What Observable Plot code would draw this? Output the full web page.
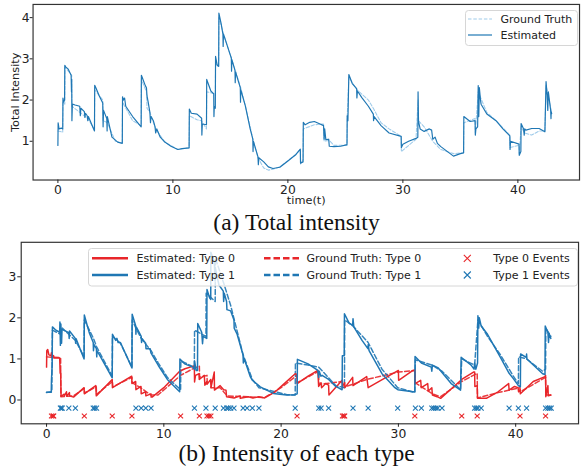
<!DOCTYPE html>
<html><head><meta charset="utf-8">
<script src="https://cdn.jsdelivr.net/npm/d3@7"></script>
<script src="https://cdn.jsdelivr.net/npm/@observablehq/plot@0.6"></script>
<style>
html,body{margin:0;padding:0;background:#fff;overflow:hidden;width:582px;height:467px}
#wrap{position:relative;width:582px;height:467px;overflow:hidden}
.abs{position:absolute;left:0}
.cap{position:absolute;left:0;width:593px;text-align:center;font-family:"Liberation Serif","Times New Roman",serif;font-size:23.5px;line-height:1;color:#111;white-space:nowrap}
</style></head><body><div id="wrap"></div>
<script>
// ---------- data ----------
const xTicks = [0, 10, 20, 30, 40];
const topYTicks = [1, 2, 3, 4];
const botYTicks = [0, 1, 2, 3];

// total intensity, estimated: [t, value]
const totalEst = [[0.0,0.9],[0.02,1.45],[0.1,1.3],[0.3,1.32],[0.42,1.3],[0.44,2.05],[0.5,1.95],[0.58,2.0],[0.6,2.84],[0.7,2.8],[0.9,2.75],[1.15,2.6],[1.18,2.2],[1.2,2.5],[1.22,1.5],[1.26,1.9],[1.5,1.88],[1.9,1.85],[1.95,1.62],[2.0,1.8],[2.3,1.72],[2.35,1.58],[2.4,1.68],[2.55,1.62],[2.6,1.5],[2.65,1.6],[3.18,1.25],[3.2,2.36],[3.3,2.3],[3.6,2.1],[3.9,1.93],[3.93,1.35],[3.97,1.75],[4.25,1.55],[4.28,1.25],[4.3,1.6],[4.7,1.1],[5.2,0.98],[5.6,0.95],[5.62,2.08],[5.7,2.0],[5.8,2.05],[5.9,1.85],[6.5,1.6],[7.24,1.35],[7.26,2.6],[7.4,2.5],[7.6,2.35],[7.7,2.3],[7.75,2.1],[7.85,1.95],[8.0,1.7],[8.05,1.45],[8.1,1.6],[8.3,1.5],[8.45,1.35],[8.5,1.2],[8.6,1.3],[8.9,1.1],[9.3,0.98],[9.83,0.88],[10.43,0.8],[10.8,0.82],[11.41,0.84],[11.43,1.78],[11.6,1.68],[12.1,1.66],[12.5,1.56],[12.52,1.15],[12.56,1.42],[12.92,1.4],[12.94,2.5],[13.3,2.22],[13.55,2.15],[13.57,1.6],[13.6,1.85],[13.69,1.8],[13.71,3.06],[13.85,2.85],[13.98,2.82],[14.0,4.11],[14.2,3.85],[14.35,3.6],[14.37,3.3],[14.4,3.6],[14.96,3.12],[15.08,3.02],[15.1,2.7],[15.13,2.98],[15.4,2.72],[15.42,2.42],[15.45,2.68],[15.86,2.3],[15.88,1.95],[15.9,2.25],[16.3,1.86],[16.72,1.3],[16.95,1.05],[16.97,0.75],[17.0,1.0],[17.4,0.62],[17.43,0.43],[17.47,0.6],[17.9,0.5],[18.3,0.38],[18.7,0.34],[19.3,0.37],[20.0,0.52],[20.7,0.68],[21.08,0.81],[21.1,0.47],[21.32,0.5],[21.34,1.46],[21.5,1.4],[21.9,1.46],[22.3,1.48],[22.7,1.43],[23.1,1.38],[23.15,1.05],[23.2,1.3],[23.3,1.04],[23.55,1.05],[23.6,0.88],[24.0,0.87],[24.6,0.88],[25.14,0.92],[25.16,1.62],[25.22,1.5],[25.3,2.62],[25.6,2.4],[25.98,2.28],[26.0,2.05],[26.05,2.22],[26.43,2.06],[27.0,1.85],[27.43,1.66],[27.45,1.5],[27.5,1.6],[28.1,1.38],[28.8,1.2],[29.85,1.12],[29.87,0.85],[30.0,0.93],[30.5,1.0],[31.14,1.07],[31.3,1.1],[31.32,2.2],[31.36,1.48],[31.5,1.3],[31.85,1.24],[32.3,1.3],[32.5,1.27],[32.6,1.05],[32.8,1.1],[33.0,0.95],[33.3,0.87],[34.4,0.64],[35.0,0.7],[35.28,0.72],[35.3,1.6],[35.85,1.48],[36.28,1.5],[36.3,1.15],[36.35,1.3],[36.5,1.35],[36.55,2.35],[36.6,1.6],[36.65,2.3],[36.75,2.0],[36.8,1.9],[37.3,1.66],[38.1,1.5],[38.7,1.3],[39.3,1.13],[39.32,0.8],[39.36,1.0],[40.1,0.93],[40.12,0.66],[40.26,0.75],[40.28,1.43],[40.5,1.3],[40.55,1.15],[40.6,1.3],[40.7,1.27],[41.2,1.31],[41.85,1.31],[42.35,1.23],[42.45,2.45],[42.55,2.1],[42.6,1.75],[42.65,2.2],[42.85,1.75],[42.88,1.55],[42.9,1.72],[42.94,1.67]];

// total intensity, ground truth
const totalGT = [[0,1.25],[0.42,1.22],[0.44,1.95],[0.6,1.9],[0.62,2.8],[1.2,2.6],[1.22,1.85],[2.6,1.55],[3.18,1.28],[3.2,2.25],[3.9,2.0],[3.93,1.5],[4.3,1.45],[5.0,1.0],[5.6,0.95],[5.62,1.95],[6.5,1.5],[7.24,1.38],[7.26,2.5],[7.7,2.2],[7.75,1.8],[8.0,1.7],[8.5,1.3],[9.3,0.98],[10.43,0.8],[11.41,0.84],[11.43,1.62],[12.1,1.52],[12.5,1.5],[12.92,1.3],[12.94,2.2],[13.69,2.15],[13.71,2.9],[13.98,2.8],[14.0,4.0],[14.4,3.6],[15.1,3.0],[15.9,2.3],[16.3,1.86],[16.72,1.35],[17.0,1.0],[17.4,0.6],[17.9,0.35],[18.3,0.3],[18.7,0.32],[19.3,0.38],[20.7,0.68],[21.08,0.8],[21.1,0.45],[21.32,0.55],[21.34,1.3],[22.3,1.4],[23.1,1.42],[23.15,1.0],[23.6,1.02],[24.0,0.9],[25.14,0.9],[25.16,1.6],[25.3,2.55],[26.0,2.25],[27.0,2.0],[27.43,1.8],[28.1,1.45],[28.8,1.3],[29.85,1.12],[29.87,0.75],[31.14,1.05],[31.32,2.0],[31.36,1.5],[31.85,1.35],[32.6,1.0],[33.3,0.8],[34.4,0.7],[35.28,0.72],[35.3,1.45],[36.28,1.55],[36.3,1.2],[36.55,2.2],[37.3,1.7],[38.1,1.5],[39.3,1.15],[39.32,0.85],[40.1,0.9],[40.12,0.7],[40.28,1.35],[40.6,1.2],[41.2,1.15],[41.85,1.25],[42.35,1.25],[42.45,2.35],[42.94,1.7]];

// type 1 intensity, estimated
const type1Est = [[0,0.19],[0.4,0.19],[0.42,0.5],[0.48,0.85],[0.5,1.78],[0.8,1.7],[1.12,1.65],[1.14,1.9],[1.18,1.33],[1.22,1.85],[1.28,1.38],[1.32,1.72],[1.9,1.64],[1.93,1.5],[1.96,1.68],[2.45,1.5],[2.48,1.38],[2.52,1.49],[3.2,1.0],[3.22,2.07],[3.64,1.64],[3.98,1.4],[4.0,1.2],[4.05,1.35],[4.25,1.25],[4.28,1.05],[4.3,1.2],[4.63,1.04],[5.6,0.54],[5.62,1.6],[5.9,1.45],[6.0,1.5],[6.1,1.4],[6.3,1.4],[7.28,0.78],[7.3,2.09],[7.6,1.81],[7.62,1.6],[7.65,1.78],[8.07,1.55],[8.1,1.4],[8.13,1.5],[8.45,1.38],[8.48,1.25],[8.83,1.25],[8.9,1.15],[9.53,0.84],[10.3,0.5],[11.35,0.2],[11.37,1.0],[11.77,0.88],[12.47,0.8],[12.6,0.75],[12.62,0.95],[12.75,0.72],[12.87,0.72],[12.89,1.86],[13.23,1.65],[13.3,1.37],[13.35,1.55],[13.66,1.5],[13.68,2.69],[13.9,2.49],[14.0,2.45],[14.01,3.6],[14.3,3.37],[14.37,2.9],[14.4,3.2],[14.7,2.8],[15.07,2.65],[15.1,2.4],[15.15,2.6],[15.35,2.4],[15.38,2.2],[15.7,2.17],[15.98,1.95],[16.0,1.75],[16.25,1.6],[16.75,1.1],[16.78,0.9],[16.82,1.03],[17.1,0.8],[17.38,0.56],[17.55,0.48],[18.1,0.35],[18.22,0.32],[19.34,0.16],[20.46,0.12],[21.2,0.13],[21.37,0.15],[21.39,0.99],[22.3,0.88],[23.13,0.72],[23.2,0.55],[23.25,0.7],[23.4,0.58],[23.5,0.6],[24.05,0.5],[24.66,0.33],[25.2,0.25],[25.22,1.08],[25.38,1.08],[25.4,2.1],[25.8,1.87],[26.1,1.82],[26.13,1.98],[26.2,1.78],[26.9,1.45],[27.4,1.25],[27.43,1.35],[27.5,1.2],[28.6,0.64],[29.7,0.3],[29.95,0.25],[31.24,0.2],[31.4,0.2],[31.42,1.06],[31.96,0.9],[32.8,0.8],[32.85,0.7],[32.9,0.85],[33.4,0.78],[34.5,0.4],[35.3,0.24],[35.35,1.04],[36.2,0.85],[36.45,0.75],[36.5,0.9],[36.6,0.75],[36.75,0.9],[36.78,2.05],[36.85,1.75],[36.9,2.0],[37.06,1.8],[37.6,1.6],[38.7,1.04],[39.44,0.65],[39.8,0.52],[40.23,0.35],[40.4,0.32],[40.42,1.12],[40.9,1.04],[40.93,1.12],[40.96,1.0],[42.3,0.64],[42.5,0.62],[42.52,1.8],[42.75,1.64],[42.8,1.4],[42.85,1.62],[43.0,1.5]];

// type 1 intensity, ground truth
const type1GT = [[0,0.18],[0.45,0.2],[0.5,1.7],[1.2,1.6],[1.34,1.75],[2.46,1.45],[3.2,1.05],[3.22,1.95],[4.0,1.5],[4.26,1.3],[5.6,0.58],[5.62,1.55],[6.3,1.38],[7.28,0.8],[7.3,1.95],[7.62,1.75],[8.07,1.5],[8.91,1.2],[9.53,0.9],[10.3,0.55],[11.43,0.25],[11.45,0.95],[12.6,0.8],[12.62,1.7],[13.59,1.55],[13.61,2.6],[14.38,2.4],[14.4,3.45],[15.1,2.85],[15.7,2.3],[16.76,1.1],[17.55,0.5],[18.11,0.3],[18.8,0.25],[20.5,0.13],[21.2,0.12],[21.22,0.9],[22.3,0.85],[23.21,0.8],[24.66,0.35],[25.4,0.3],[25.42,1.95],[26.13,1.8],[27.42,1.4],[28.6,0.75],[29.94,0.3],[31.4,0.18],[31.45,0.98],[32.85,0.85],[33.72,0.7],[35.3,0.25],[35.4,1.0],[36.5,0.85],[36.78,1.95],[37.6,1.55],[38.7,1.1],[39.8,0.58],[40.23,0.4],[40.25,1.05],[40.93,1.0],[42.3,0.7],[42.55,0.75],[42.57,1.75],[43.0,1.55]];

// type 0 intensity, estimated
const type0Est = [[0,0.8],[0.02,1.2],[0.1,1.23],[0.2,1.1],[0.37,1.08],[0.42,1.15],[0.45,1.05],[0.6,1.08],[0.63,1.02],[1.12,1.02],[1.16,0.65],[1.2,0.7],[1.24,0.09],[1.5,0.14],[1.52,0.1],[1.7,0.2],[1.72,0.09],[1.95,0.18],[1.97,0.1],[2.3,0.07],[3.2,0.3],[3.22,0.15],[4.2,0.35],[4.24,0.1],[5.6,0.5],[5.62,0.3],[7.26,0.58],[7.28,0.4],[7.6,0.45],[7.62,0.25],[8.05,0.33],[8.07,0.15],[8.45,0.2],[8.47,0.1],[8.9,0.15],[8.92,0.07],[9.0,0.07],[10.0,0.3],[11.35,0.7],[11.8,0.76],[12.6,0.83],[12.62,0.44],[12.7,0.6],[13.0,0.64],[13.02,0.5],[13.45,0.6],[13.5,0.36],[13.66,0.45],[13.68,0.38],[14.0,0.5],[14.02,0.3],[14.3,0.68],[14.32,0.24],[14.8,0.35],[15.1,0.25],[15.3,0.24],[15.35,0.08],[16.0,0.05],[16.5,0.1],[16.52,0.04],[17.2,0.08],[17.6,0.05],[18.1,0.08],[18.6,0.05],[19.5,0.2],[20.2,0.38],[21.2,0.64],[21.35,0.62],[21.37,0.4],[22.3,0.58],[23.13,0.72],[23.2,0.33],[23.4,0.42],[23.45,0.3],[23.8,0.4],[24.05,0.36],[24.08,0.12],[25.2,0.48],[25.23,0.33],[25.42,0.42],[25.44,0.3],[26.1,0.55],[26.13,0.35],[27.3,0.57],[27.42,0.3],[30.0,0.72],[30.02,0.48],[31.24,0.72],[31.4,0.73],[31.42,0.4],[31.9,0.48],[31.95,0.3],[32.5,0.4],[32.55,0.22],[32.85,0.3],[32.9,0.12],[33.3,0.08],[33.6,0.04],[35.4,0.5],[36.4,0.68],[36.5,0.68],[36.52,0.33],[36.72,0.35],[36.75,0.04],[37.5,0.04],[38.5,0.2],[39.4,0.4],[39.44,0.24],[39.9,0.33],[40.2,0.3],[40.25,0.2],[40.37,0.25],[40.4,0.15],[41.5,0.45],[42.5,0.57],[42.55,0.6],[42.57,0.08],[42.75,0.35],[42.78,0.1],[43.0,0.12]];

// type 0 intensity, ground truth
const type0GT = [[0,1.05],[1.2,1.03],[1.22,0.08],[2.3,0.1],[3.22,0.28],[3.24,0.17],[4.24,0.32],[4.26,0.14],[5.62,0.45],[5.64,0.32],[7.28,0.55],[7.3,0.42],[8.0,0.3],[8.9,0.12],[9.5,0.12],[11.43,0.6],[12.6,0.78],[13.03,0.82],[13.05,0.55],[13.68,0.6],[13.7,0.42],[14.01,0.48],[14.03,0.3],[14.8,0.3],[15.4,0.1],[18.6,0.06],[20.0,0.3],[21.36,0.6],[21.38,0.42],[23.2,0.7],[23.22,0.38],[25.23,0.45],[25.25,0.3],[27.3,0.5],[30.0,0.68],[31.4,0.72],[31.42,0.42],[32.9,0.15],[33.6,0.08],[35.4,0.45],[36.72,0.65],[36.74,0.05],[38.5,0.18],[40.37,0.3],[40.4,0.2],[42.55,0.55],[42.57,0.12],[43.0,0.12]];

// event times
const type1Events = [1.18,1.25,1.34,1.9,2.46,3.98,4.1,4.26,7.62,8.07,8.46,8.91,12.61,13.59,14.38,15.08,15.36,15.5,15.7,15.98,16.76,17.1,17.55,18.11,21.2,23.21,23.41,24.05,26.13,27.42,29.94,31.45,31.96,32.85,33.02,33.2,33.36,33.72,36.5,36.65,36.78,37.06,39.44,40.23,40.93,42.55,42.75,42.9,43.03];
const type0Events = [0.42,0.55,0.61,3.22,5.6,7.28,11.43,13.03,13.68,13.85,14.01,21.36,25.23,25.35,25.42,31.4,35.4,36.72,40.37,42.55];
const type1EventLevel = -0.2;
const type0EventLevel = -0.39;

// ---------- style ----------
const BLUE = "#1f77b4", LIGHT = "#9fcbea", RED = "#e8262a";
const xDomain = [-2.16, 45.36];
const styleObj = {fontFamily: "'DejaVu Sans', sans-serif", fontSize: "12.5px", color: "#222", background: "transparent", overflow: "visible"};
const T = d => d[0], V = d => d[1];
const fmt = d => String(d);

const wrap = document.getElementById("wrap");

// ---------- top panel ----------
const topPlot = Plot.plot({
  width: 590, height: 210,
  marginLeft: 33, marginRight: 3, marginTop: 4, marginBottom: 28,
  style: styleObj,
  x: {domain: xDomain},
  y: {domain: [0.06, 4.32]},
  marks: [
    Plot.line(totalGT, {x: T, y: V, stroke: LIGHT, strokeWidth: 1.1, strokeDasharray: "3.5,1.8"}),
    Plot.line(totalEst, {x: T, y: V, stroke: BLUE, strokeWidth: 1.2}),
    Plot.frame({stroke: "#333", strokeWidth: 1.2}),
    Plot.axisX({ticks: xTicks, tickFormat: fmt, tickSize: 3.5, tickPadding: 2, label: null}),
    Plot.axisY({ticks: topYTicks, tickFormat: fmt, tickSize: 3, tickPadding: 0.5, label: null}),
    Plot.text(["time(t)"], {frameAnchor: "bottom", lineAnchor: "middle", textAnchor: "middle", dy: 20.5, fontSize: 11.5, fill: "#222"}),
    Plot.text(["Total Intensity"], {frameAnchor: "left", lineAnchor: "middle", textAnchor: "middle", dx: -18, rotate: -90, fontSize: 11.5, fill: "#222"})
  ]
});
topPlot.classList.add("abs"); topPlot.style.top = "0px";
wrap.appendChild(topPlot);

// ---------- bottom panel ----------
const botPlot = Plot.plot({
  width: 590, height: 215,
  marginLeft: 21, marginRight: 4, marginTop: 14, marginBottom: 17,
  style: styleObj,
  x: {domain: xDomain},
  y: {domain: [-0.58, 3.84]},
  marks: [
    Plot.line(type0GT, {x: T, y: V, stroke: RED, strokeWidth: 1.5, strokeDasharray: "5,2.5", strokeOpacity: 0.9}),
    Plot.line(type1GT, {x: T, y: V, stroke: BLUE, strokeWidth: 1.5, strokeDasharray: "5,2.5", strokeOpacity: 0.9}),
    Plot.line(type0Est, {x: T, y: V, stroke: RED, strokeWidth: 1.5}),
    Plot.line(type1Est, {x: T, y: V, stroke: BLUE, strokeWidth: 1.5}),
    Plot.dot(type0Events, {x: d => d, y: () => type0EventLevel, symbol: "times", r: 2.4, stroke: RED, strokeWidth: 1.1}),
    Plot.dot(type1Events, {x: d => d, y: () => type1EventLevel, symbol: "times", r: 2.4, stroke: BLUE, strokeWidth: 1.1}),
    Plot.frame({stroke: "#333", strokeWidth: 1.2}),
    Plot.axisX({ticks: xTicks, tickFormat: fmt, tickSize: 3.5, tickPadding: 2.5, label: null}),
    Plot.axisY({ticks: botYTicks, tickFormat: fmt, tickSize: 3.5, tickPadding: 1.5, label: null})
  ]
});
botPlot.classList.add("abs"); botPlot.style.top = "228px";
wrap.appendChild(botPlot);

// ---------- legends ----------
const NS = "http://www.w3.org/2000/svg";
const leg = document.createElementNS(NS, "svg");
leg.setAttribute("width", 582); leg.setAttribute("height", 467);
leg.setAttribute("class", "abs"); leg.style.top = "0px";
leg.style.fontFamily = "'DejaVu Sans', sans-serif"; leg.style.fontSize = "11px";
function el(tag, attrs, text) {
  const e = document.createElementNS(NS, tag);
  for (const k in attrs) e.setAttribute(k, attrs[k]);
  if (text) e.textContent = text;
  leg.appendChild(e); return e;
}
// top legend
el("rect", {x: 465.5, y: 10.5, width: 112, height: 35, rx: 3, fill: "rgba(255,255,255,0.8)", stroke: "#d6d6d6"});
el("line", {x1: 468, x2: 492, y1: 19, y2: 19, stroke: LIGHT, "stroke-width": 1.1, "stroke-dasharray": "3.5,1.8"});
el("line", {x1: 468, x2: 492, y1: 35, y2: 35, stroke: BLUE, "stroke-width": 1.2});
el("text", {x: 500.5, y: 19, "dominant-baseline": "central", fill: "#222"}, "Ground Truth");
el("text", {x: 500.5, y: 35, "dominant-baseline": "central", fill: "#222"}, "Estimated");
// bottom legend
el("rect", {x: 88.5, y: 248.5, width: 489, height: 37.5, rx: 3, fill: "rgba(255,255,255,0.8)", stroke: "#d6d6d6"});
const rows = [[258.3, RED, "Type 0"], [275, BLUE, "Type 1"]];
for (const [yy, c, name] of rows) {
  el("line", {x1: 92, x2: 128, y1: yy, y2: yy, stroke: c, "stroke-width": 2.6});
  el("text", {x: 136.5, y: yy, "dominant-baseline": "central", fill: "#222"}, "Estimated: " + name);
  el("line", {x1: 264, x2: 300, y1: yy, y2: yy, stroke: c, "stroke-width": 2.6, "stroke-dasharray": "6.5,3"});
  el("text", {x: 306.5, y: yy, "dominant-baseline": "central", fill: "#222"}, "Ground Truth: " + name);
  el("path", {d: `M${467.3-3.5},${yy-3.5}L${467.3+3.5},${yy+3.5}M${467.3-3.5},${yy+3.5}L${467.3+3.5},${yy-3.5}`, stroke: c, "stroke-width": 1.1, fill: "none"});
  el("text", {x: 493.3, y: yy, "dominant-baseline": "central", fill: "#222"}, name + " Events");
}
wrap.appendChild(leg);

// ---------- captions ----------
const capA = document.createElement("div");
capA.className = "cap"; capA.style.top = "211px"; capA.textContent = "(a) Total intensity";
wrap.appendChild(capA);
const capB = document.createElement("div");
capB.className = "cap"; capB.style.top = "442px"; capB.textContent = "(b) Intensity of each type";
wrap.appendChild(capB);
</script></body></html>
